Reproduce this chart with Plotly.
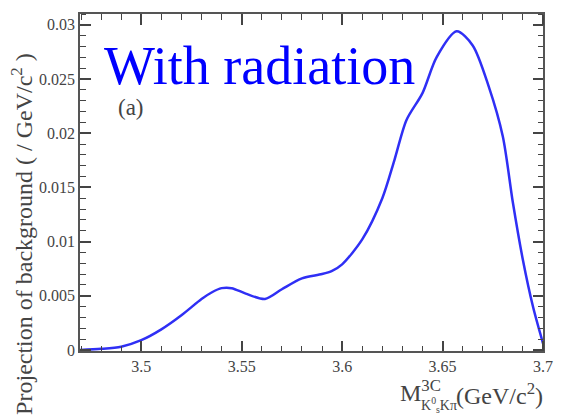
import plotly.graph_objects as go

mass = [3.4695, 3.48, 3.49, 3.50, 3.51, 3.52, 3.53, 3.535, 3.54, 3.545, 3.552, 3.5616,
        3.57, 3.58, 3.59, 3.595, 3.60, 3.61, 3.62, 3.626, 3.632, 3.64, 3.647, 3.657,
        3.665, 3.673, 3.68, 3.685, 3.69, 3.695, 3.70]
proj = [0.0, 0.0001, 0.0003, 0.0009, 0.0019, 0.0032, 0.0047, 0.0053, 0.0057, 0.0057,
        0.0052, 0.0047, 0.0056, 0.0066, 0.0070, 0.0073, 0.0079, 0.0102, 0.0140, 0.0175,
        0.0212, 0.0237, 0.0270, 0.0294, 0.0281, 0.0243, 0.0197, 0.0136, 0.0083, 0.0040,
        0.0006]

x_ticks = [3.5, 3.55, 3.6, 3.65, 3.7]
x_ticktext = ["3.5", "3.55", "3.6", "3.65", "3.7"]
y_ticks = [0, 0.005, 0.01, 0.015, 0.02, 0.025, 0.03]
y_ticktext = ["0", "0.005", "0.01", "0.015", "0.02", "0.025", "0.03"]

W, H = 565, 418
L, R, T, B = 80, 15, 14, 67
pw, ph = W - L - R, H - T - B

def px(xp):
    return (xp - L) / pw

def py(yp):
    return (H - B - yp) / ph

SERIF = "Liberation Serif"
GRAY = "#444444"
TICKC = "#444444"
XR = [3.4695, 3.7]
YR = [-0.0001, 0.031]

fig = go.Figure()
fig.add_trace(go.Scatter(x=mass, y=proj, mode="lines",
                         line=dict(color="#2f2ff5", width=2.5, shape="spline", smoothing=0.8),
                         showlegend=False, hoverinfo="skip"))


def xtick_axis(side, pos):
    return dict(range=XR, tickmode="array", tickvals=x_ticks, showticklabels=False,
                overlaying="x", anchor="free", position=pos, side=side,
                showgrid=False, zeroline=False, showline=False,
                ticks="outside", ticklen=10, tickwidth=1.5, tickcolor=TICKC,
                minor=dict(tickmode="linear", tick0=3.5, dtick=0.01, ticks="outside",
                           ticklen=5, tickwidth=1.2, tickcolor=TICKC))


def ytick_axis(side, pos):
    return dict(range=YR, tickmode="array", tickvals=y_ticks, showticklabels=False,
                overlaying="y", anchor="free", position=pos, side=side,
                showgrid=False, zeroline=False, showline=False,
                ticks="outside", ticklen=10, tickwidth=1.5, tickcolor=TICKC,
                minor=dict(tickmode="linear", tick0=0, dtick=0.001, ticks="outside",
                           ticklen=5, tickwidth=1.2, tickcolor=TICKC))


fig.update_layout(
    font=dict(family=SERIF, color=GRAY),
    xaxis=dict(range=XR, tickmode="array", tickvals=x_ticks, ticktext=x_ticktext,
               showgrid=False, zeroline=False, showline=True, linecolor="#555555", linewidth=1.5,
               mirror="allticks", ticks="inside", ticklen=10, tickwidth=1.5, tickcolor=TICKC,
               minor=dict(tickmode="linear", tick0=3.5, dtick=0.01, ticks="inside",
                          ticklen=5, tickwidth=1.2, tickcolor=TICKC),
               layer="above traces",
               tickfont=dict(family=SERIF, size=16, color=GRAY)),
    yaxis=dict(range=YR, tickmode="array", tickvals=y_ticks, ticktext=y_ticktext,
               showgrid=False, zeroline=False, showline=True, linecolor="#555555", linewidth=1.5,
               mirror="allticks", ticks="inside", ticklen=10, tickwidth=1.5, tickcolor=TICKC,
               minor=dict(tickmode="linear", tick0=0, dtick=0.001, ticks="inside",
                          ticklen=5, tickwidth=1.2, tickcolor=TICKC),
               layer="above traces",
               tickfont=dict(family=SERIF, size=16, color=GRAY)),
    xaxis3=xtick_axis("top", 0),
    yaxis3=ytick_axis("right", 0),
    xaxis4=xtick_axis("bottom", 1),
    yaxis4=ytick_axis("left", 1),
)
fig.add_trace(go.Scatter(x=[mass[0]], y=[proj[0]], xaxis="x3", yaxis="y3", mode="markers",
                         marker=dict(opacity=0), showlegend=False, hoverinfo="skip"))
fig.add_trace(go.Scatter(x=[mass[0]], y=[proj[0]], xaxis="x4", yaxis="y4", mode="markers",
                         marker=dict(opacity=0), showlegend=False, hoverinfo="skip"))

ann = []
ann.append(dict(text="With radiation", x=px(102), y=py(66), xref="paper", yref="paper",
                xanchor="left", yanchor="middle", showarrow=False,
                font=dict(family=SERIF, size=54, color="#0000ff")))
ann.append(dict(text="(a)", x=px(117), y=py(107), xref="paper", yref="paper",
                xanchor="left", yanchor="middle", showarrow=False,
                font=dict(family=SERIF, size=23, color=GRAY)))
ann.append(dict(text="Projection of background ( / GeV/c<sup>2</sup> )", x=px(21), y=py(234),
                xref="paper", yref="paper", xanchor="center", yanchor="middle",
                textangle=-90, showarrow=False,
                font=dict(family=SERIF, size=24, color=GRAY)))
ann.append(dict(text="M<sup>3C</sup>", x=px(403), y=py(391), xref="paper", yref="paper",
                xanchor="left", yanchor="middle", showarrow=False,
                font=dict(family=SERIF, size=24, color=GRAY)))
ann.append(dict(text="K<sup>0</sup><sub>s</sub>Kπ", x=px(424), y=py(405), xref="paper", yref="paper",
                xanchor="left", yanchor="middle", showarrow=False,
                font=dict(family=SERIF, size=14, color=GRAY)))
ann.append(dict(text="(GeV/c<sup>2</sup>)", x=px(552), y=py(394), xref="paper", yref="paper",
                xanchor="right", yanchor="middle", showarrow=False,
                font=dict(family=SERIF, size=24, color=GRAY)))

fig.update_layout(width=W, height=H, margin=dict(l=L, r=R, t=T, b=B),
                  paper_bgcolor="white", plot_bgcolor="rgba(0,0,0,0)", annotations=ann)

fig.write_html("out.html")
